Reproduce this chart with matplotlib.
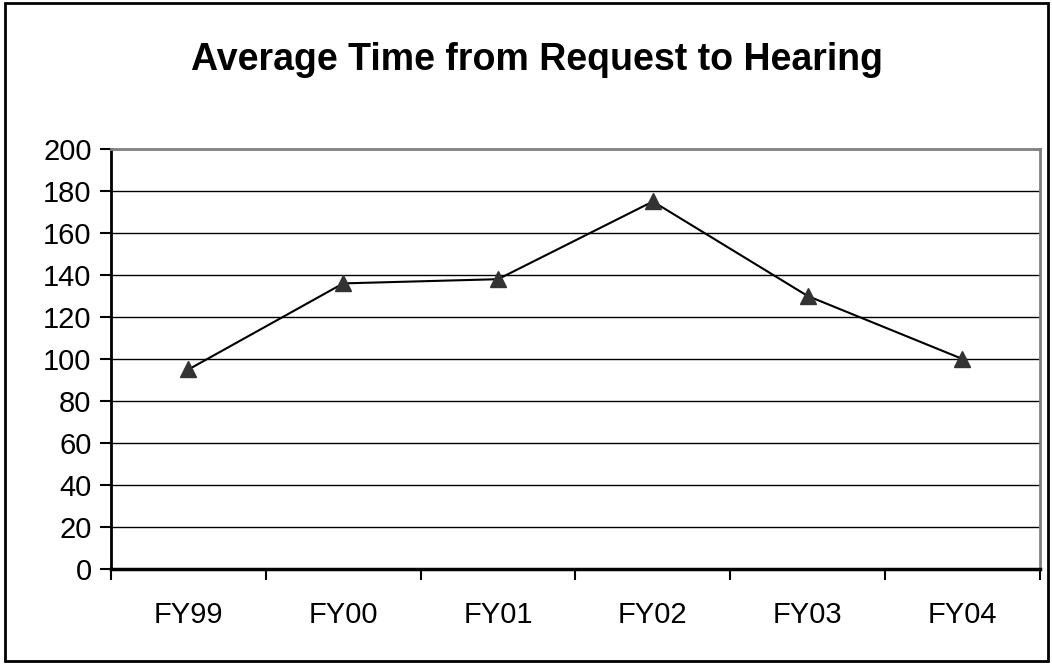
import matplotlib
matplotlib.use('Agg')
import matplotlib.pyplot as plt
from matplotlib.patches import Rectangle

plt.rcParams.update({'font.family': ['Liberation Sans', 'DejaVu Sans']})

years = ['FY99', 'FY00', 'FY01', 'FY02', 'FY03', 'FY04']
avg_days = [95, 136, 138, 175, 130, 100]
y_ticks = list(range(0, 201, 20))

fig = plt.figure(figsize=(10.52, 6.64), dpi=100)
ax = fig.add_axes([0.1055, 0.1431, 0.883, 0.6325])

x = list(range(len(years)))
ax.plot(x, avg_days, color='black', linewidth=1.5, marker='^',
        markersize=11, markerfacecolor='#333333', markeredgecolor='#333333',
        zorder=3, clip_on=False)

ax.set_xlim(-0.5, len(years) - 0.5)
ax.set_ylim(0, 200)
ax.set_yticks(y_ticks)
ax.set_yticklabels([str(v) for v in y_ticks], fontsize=21)
for v in y_ticks[1:-1]:
    ax.axhline(v, color='black', linewidth=1.0, zorder=1)

# category boundaries carry the tick marks, labels sit between them
ax.set_xticks([i - 0.5 for i in range(len(years) + 1)])
ax.set_xticklabels([])
ax.set_xticks(x, minor=True)
ax.set_xticklabels(years, minor=True, fontsize=21)
ax.tick_params(axis='x', which='minor', length=0, pad=23)
ax.tick_params(axis='x', which='major', length=8, width=1.5, direction='out')
ax.tick_params(axis='y', length=8, width=1.5, direction='out', pad=6)

ax.spines['left'].set_linewidth(2)
ax.spines['bottom'].set_linewidth(2.5)
for side in ['top', 'right']:
    ax.spines[side].set_color('#808080')
    ax.spines[side].set_linewidth(2)

fig.text(0.51, 0.91, 'Average Time from Request to Hearing',
         ha='center', va='center', fontsize=27, fontweight='bold')

fig.patches.append(Rectangle((5 / 1052, 3 / 664), 1043 / 1052, 658 / 664,
                             transform=fig.transFigure, fill=False,
                             edgecolor='black', linewidth=2))

fig.savefig('out.png', dpi=100)
